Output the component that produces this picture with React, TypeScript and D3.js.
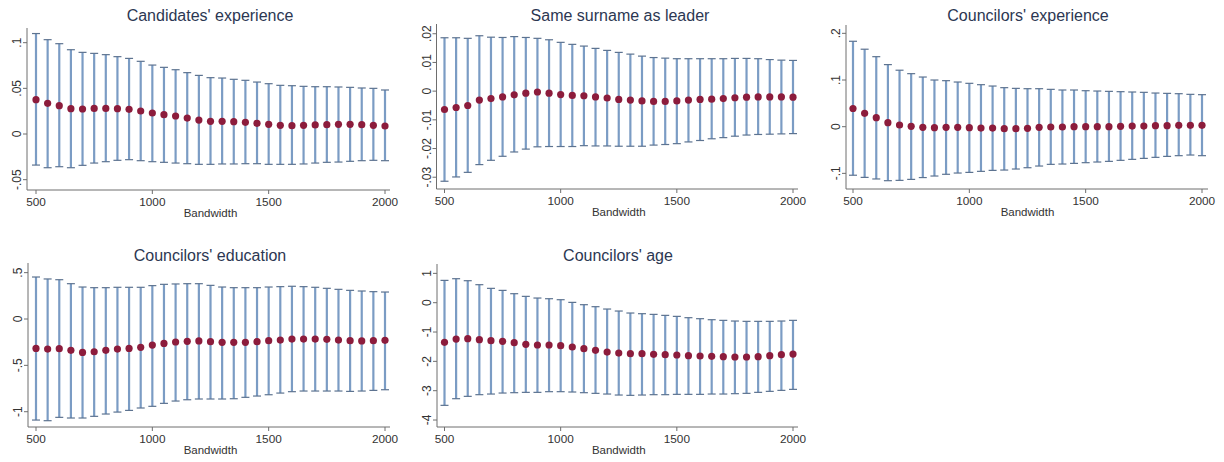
import React from "react";
import * as d3 from "d3";

const bandwidths = [500,550,600,650,700,750,800,850,900,950,1000,1050,1100,1150,1200,1250,1300,1350,1400,1450,1500,1550,1600,1650,1700,1750,1800,1850,1900,1950,2000];
const xTicks = [500, 1000, 1500, 2000];

const candExpEst = [0.0376,0.0336,0.031,0.0277,0.0274,0.028,0.028,0.0277,0.027,0.0252,0.023,0.0212,0.0197,0.0175,0.0153,0.0139,0.0139,0.0135,0.0128,0.0117,0.0106,0.0095,0.0091,0.0095,0.0099,0.0102,0.0106,0.0106,0.0102,0.0095,0.0088];
const candExpHi = [0.110,0.1033,0.0989,0.0923,0.0894,0.0883,0.0869,0.0847,0.0828,0.0796,0.0755,0.073,0.0704,0.0672,0.0642,0.0617,0.0613,0.0599,0.0588,0.0569,0.0551,0.0533,0.0529,0.0522,0.0518,0.0518,0.0515,0.0511,0.0504,0.05,0.0482];
const candExpLo = [-0.034,-0.0369,-0.0358,-0.0369,-0.0343,-0.0318,-0.0303,-0.0288,-0.0281,-0.0292,-0.0303,-0.031,-0.0318,-0.0325,-0.0332,-0.0332,-0.0328,-0.0328,-0.0325,-0.0325,-0.0332,-0.0332,-0.0332,-0.0328,-0.0318,-0.031,-0.0307,-0.0299,-0.0292,-0.0288,-0.0292];
const candExpTicks = [-0.05, 0, 0.05, 0.1];
const candExpLabels = ["-.05", "0", ".05", ".1"];

const surnameEst = [-0.0064,-0.0057,-0.005,-0.0031,-0.0026,-0.002,-0.0013,-0.0007,-0.0003,-0.0007,-0.0012,-0.0015,-0.0016,-0.002,-0.0024,-0.0029,-0.0031,-0.0034,-0.0036,-0.0036,-0.0034,-0.0031,-0.0029,-0.0028,-0.0026,-0.0023,-0.0021,-0.002,-0.002,-0.002,-0.0021];
const surnameHi = [0.0186,0.0186,0.0184,0.0193,0.0188,0.0187,0.019,0.0187,0.0184,0.0179,0.017,0.0163,0.0157,0.0149,0.0142,0.0135,0.0129,0.0122,0.0117,0.0115,0.0113,0.0113,0.0113,0.0113,0.0113,0.0114,0.0114,0.0113,0.011,0.0108,0.0107];
const surnameLo = [-0.0314,-0.0299,-0.0283,-0.0256,-0.0241,-0.0227,-0.0212,-0.0202,-0.0194,-0.0193,-0.0193,-0.0193,-0.019,-0.0191,-0.0191,-0.0192,-0.0192,-0.0192,-0.0188,-0.0186,-0.0183,-0.0177,-0.0172,-0.0166,-0.0162,-0.0157,-0.0153,-0.0151,-0.015,-0.0149,-0.0148];
const surnameTicks = [-0.03, -0.02, -0.01, 0, 0.01, 0.02];
const surnameLabels = ["-.03", "-.02", "-.01", "0", ".01", ".02"];

const counExpEst = [0.039,0.0286,0.0193,0.0086,0.0036,0.0007,-0.0014,-0.0021,-0.0014,-0.0014,-0.0021,-0.0029,-0.0029,-0.0043,-0.0043,-0.0036,-0.0014,-0.0007,-0.0007,0,0,0,0,0.0007,0.0014,0.0014,0.0021,0.0021,0.0029,0.0029,0.0029];
const counExpHi = [0.183,0.166,0.15,0.133,0.121,0.1136,0.1064,0.1,0.0986,0.0957,0.0929,0.09,0.0871,0.0836,0.0821,0.0814,0.0814,0.08,0.0786,0.0786,0.0771,0.0764,0.0757,0.075,0.0743,0.0736,0.0721,0.0714,0.0707,0.0693,0.0686];
const counExpLo = [-0.104,-0.1086,-0.112,-0.1157,-0.115,-0.1129,-0.109,-0.1057,-0.102,-0.0993,-0.0979,-0.0957,-0.0936,-0.0929,-0.0907,-0.0879,-0.0843,-0.0807,-0.08,-0.0786,-0.0771,-0.0757,-0.0743,-0.0721,-0.07,-0.0679,-0.0657,-0.0636,-0.0621,-0.0607,-0.0621];
const counExpTicks = [-0.1, 0, 0.1, 0.2];
const counExpLabels = ["-.1", "0", ".1", ".2"];

const counEduEst = [-0.317,-0.324,-0.32,-0.338,-0.36,-0.353,-0.338,-0.324,-0.317,-0.306,-0.281,-0.263,-0.248,-0.241,-0.237,-0.245,-0.252,-0.252,-0.252,-0.245,-0.234,-0.227,-0.216,-0.216,-0.216,-0.219,-0.227,-0.234,-0.237,-0.234,-0.23];
const counEduHi = [0.453,0.432,0.424,0.381,0.345,0.338,0.338,0.342,0.342,0.342,0.36,0.374,0.378,0.381,0.381,0.363,0.345,0.338,0.338,0.338,0.345,0.349,0.353,0.349,0.342,0.331,0.32,0.309,0.302,0.295,0.291];
const counEduLo = [-1.09,-1.097,-1.061,-1.068,-1.068,-1.05,-1.025,-1.004,-0.986,-0.96,-0.942,-0.91,-0.885,-0.871,-0.863,-0.863,-0.863,-0.86,-0.845,-0.831,-0.817,-0.799,-0.784,-0.777,-0.777,-0.777,-0.777,-0.781,-0.777,-0.77,-0.763];
const counEduTicks = [-1, -0.5, 0, 0.5];
const counEduLabels = ["-1", "-.5", "0", ".5"];

const counAgeEst = [-1.352,-1.239,-1.227,-1.261,-1.295,-1.318,-1.364,-1.42,-1.443,-1.443,-1.466,-1.511,-1.568,-1.625,-1.682,-1.716,-1.739,-1.739,-1.761,-1.773,-1.784,-1.807,-1.818,-1.83,-1.841,-1.852,-1.852,-1.841,-1.807,-1.773,-1.75];
const counAgeHi = [0.761,0.818,0.75,0.614,0.489,0.42,0.307,0.216,0.159,0.136,0.102,0.011,-0.068,-0.136,-0.216,-0.284,-0.352,-0.375,-0.398,-0.432,-0.466,-0.511,-0.545,-0.58,-0.602,-0.625,-0.636,-0.636,-0.636,-0.625,-0.602];
const counAgeLo = [-3.5,-3.273,-3.193,-3.136,-3.114,-3.08,-3.068,-3.057,-3.057,-3.034,-3.034,-3.045,-3.068,-3.091,-3.114,-3.148,-3.159,-3.148,-3.136,-3.136,-3.125,-3.125,-3.125,-3.114,-3.114,-3.102,-3.091,-3.057,-3.023,-2.989,-2.955];
const counAgeTicks = [-4, -3, -2, -1, 0, 1];
const counAgeLabels = ["-4", "-3", "-2", "-1", "0", "1"];

const FONT = "'Liberation Sans', Arial, sans-serif";
const BAR = "#7b9cc4";
const CAP = "#5d7390";
const DOT = "#8c1c3c";
const AXIS = "#6e6e6e";
const TXT = "#333333";
const TITLE = "#2c3752";

type PanelSpec = {
  title: string;
  est: number[]; lo: number[]; hi: number[];
  ticks: number[]; labels: string[];
  ax: number; axEnd: number; xr: [number, number];
  top: number; bottom: number; yd: [number, number];
  titleX: number; titleY: number;
};

const panels: PanelSpec[] = [
  { title: "Candidates' experience", est: candExpEst, lo: candExpLo, hi: candExpHi, ticks: candExpTicks, labels: candExpLabels,
    ax: 27, axEnd: 390, xr: [36, 385], top: 32, bottom: 190, yd: [-0.0613, 0.1117], titleX: 210, titleY: 15 },
  { title: "Same surname as leader", est: surnameEst, lo: surnameLo, hi: surnameHi, ticks: surnameTicks, labels: surnameLabels,
    ax: 436.5, axEnd: 798, xr: [444.5, 793], top: 28, bottom: 189, yd: [-0.0341, 0.022], titleX: 620, titleY: 15 },
  { title: "Councilors' experience", est: counExpEst, lo: counExpLo, hi: counExpHi, ticks: counExpTicks, labels: counExpLabels,
    ax: 846, axEnd: 1208, xr: [853, 1202], top: 29, bottom: 189, yd: [-0.1335, 0.2093], titleX: 1028, titleY: 15 },
  { title: "Councilors' education", est: counEduEst, lo: counEduLo, hi: counEduHi, ticks: counEduTicks, labels: counEduLabels,
    ax: 28, axEnd: 390, xr: [36, 385], top: 267, bottom: 427, yd: [-1.165, 0.561], titleX: 210, titleY: 255 },
  { title: "Councilors' age", est: counAgeEst, lo: counAgeLo, hi: counAgeHi, ticks: counAgeTicks, labels: counAgeLabels,
    ax: 437, axEnd: 798, xr: [444.5, 793], top: 268, bottom: 427, yd: [-4.238, 1.183], titleX: 618, titleY: 255 },
];

function Panel({ p }: { p: PanelSpec }) {
  const x = d3.scaleLinear().domain([500, 2000]).range(p.xr);
  const y = d3.scaleLinear().domain(p.yd).range([p.bottom, p.top]);
  const capW = 4;
  return (
    <g>
      <text x={p.titleX} y={p.titleY + 5.5} textAnchor="middle" fontSize={16} fill={TITLE} fontFamily={FONT}>{p.title}</text>
      <line x1={p.ax} x2={p.ax} y1={p.top - 4} y2={p.bottom} stroke={AXIS} strokeWidth={1} />
      <line x1={p.ax} x2={p.axEnd} y1={p.bottom} y2={p.bottom} stroke={AXIS} strokeWidth={1} />
      {p.ticks.map((t, i) => (
        <g key={"yt" + i}>
          <line x1={p.ax - 4} x2={p.ax} y1={y(t)} y2={y(t)} stroke={AXIS} strokeWidth={1} />
          <text transform={`translate(${p.ax - 6},${y(t)}) rotate(-90)`} textAnchor="middle" fontSize={12} fill={TXT} fontFamily={FONT}>{p.labels[i]}</text>
        </g>
      ))}
      {xTicks.map((t) => (
        <g key={"xt" + t}>
          <line x1={x(t)} x2={x(t)} y1={p.bottom} y2={p.bottom + 4} stroke={AXIS} strokeWidth={1} />
          <text x={x(t)} y={p.bottom + 16} textAnchor="middle" fontSize={11.8} fill={TXT} fontFamily={FONT}>{t}</text>
        </g>
      ))}
      <text x={(p.xr[0] + p.xr[1]) / 2} y={p.bottom + 27} textAnchor="middle" fontSize={11.5} fill={TXT} fontFamily={FONT}>Bandwidth</text>
      {bandwidths.map((b, i) => (
        <g key={"eb" + b}>
          <line x1={x(b)} x2={x(b)} y1={y(p.lo[i])} y2={y(p.hi[i])} stroke={BAR} strokeWidth={2.2} />
          <line x1={x(b) - capW} x2={x(b) + capW} y1={y(p.hi[i])} y2={y(p.hi[i])} stroke={CAP} strokeWidth={1.2} />
          <line x1={x(b) - capW} x2={x(b) + capW} y1={y(p.lo[i])} y2={y(p.lo[i])} stroke={CAP} strokeWidth={1.2} />
        </g>
      ))}
      {bandwidths.map((b, i) => (
        <circle key={"pt" + b} cx={x(b)} cy={y(p.est[i])} r={3.6} fill={DOT} />
      ))}
    </g>
  );
}

export default function App() {
  return (
    <svg width={1224} height={462} style={{ position: "absolute", left: 0, top: 0, background: "#fff" }}>
      <rect x={0} y={0} width={1224} height={462} fill="#fff" />
      {panels.map((p) => <Panel key={p.title} p={p} />)}
    </svg>
  );
}
